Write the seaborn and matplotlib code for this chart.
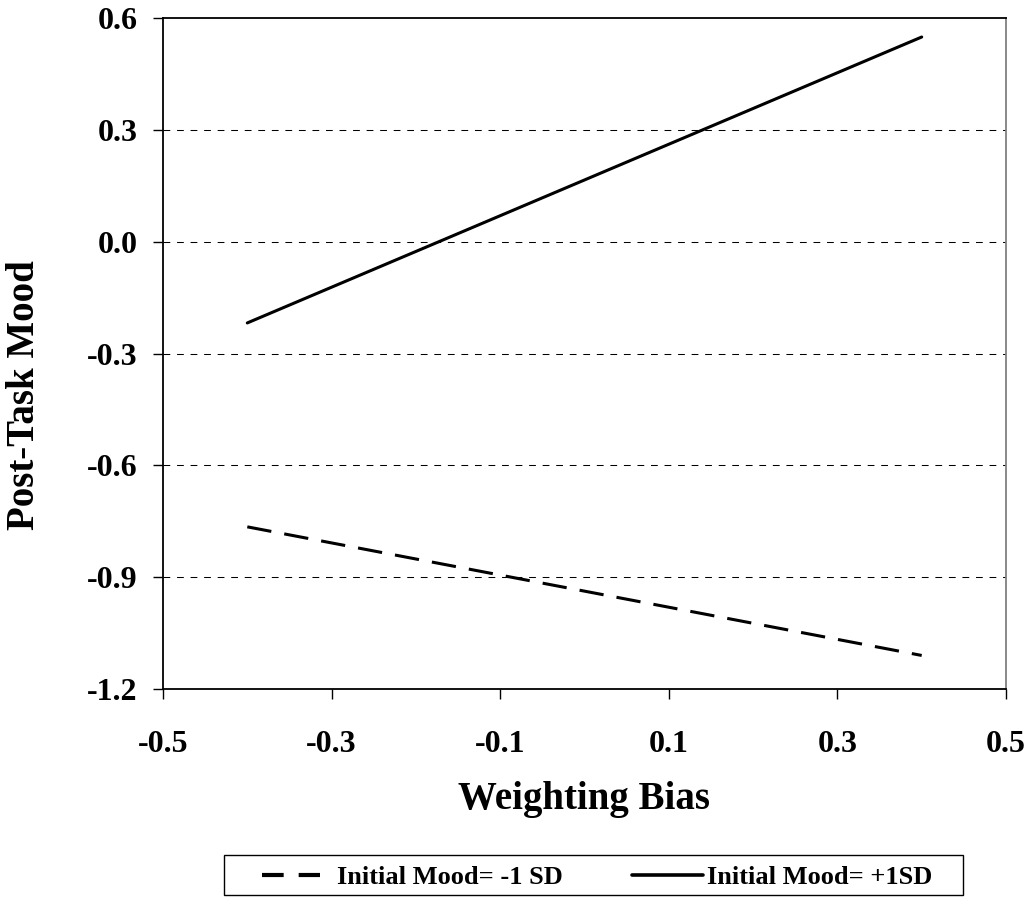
import numpy as np
import pandas as pd
import matplotlib
matplotlib.use("Agg")
import matplotlib.pyplot as plt
import seaborn as sns
from matplotlib.lines import Line2D
from matplotlib.patches import Rectangle

weighting_bias = [-0.4, 0.4]
mood_low = [-0.765, -1.11]
mood_high = [-0.218, 0.549]
series_names = ["Initial Mood= -1 SD", "Initial Mood= +1SD"]
x_ticks = [-0.5, -0.3, -0.1, 0.1, 0.3, 0.5]
y_ticks = [-1.2, -0.9, -0.6, -0.3, 0.0, 0.3, 0.6]

df = pd.DataFrame({
    "x": weighting_bias * 2,
    "y": mood_low + mood_high,
    "series": [series_names[0]] * 2 + [series_names[1]] * 2,
})

sns.set_style("white")
plt.rcParams['font.family'] = ['Liberation Serif', 'DejaVu Serif']
plt.rcParams['font.weight'] = 'bold'
plt.rcParams['text.color'] = 'black'
plt.rcParams['axes.labelcolor'] = 'black'
plt.rcParams['xtick.color'] = 'black'
plt.rcParams['ytick.color'] = 'black'

W, H = 1032, 898
fig = plt.figure(figsize=(W/100, H/100), dpi=100)
ax = fig.add_axes([163/W, 1 - 689/H, (1006-163)/W, (689-18)/H])

LW = 2.2
sns.lineplot(data=df, x="x", y="y", hue="series", style="series",
             palette=["black", "black"],
             dashes={series_names[0]: (8, 4.3), series_names[1]: ""},
             linewidth=LW, legend=False, ax=ax)

for yv in y_ticks[1:-1]:
    ax.axhline(yv, color="black", linestyle=(0, (6.5, 6.5)), linewidth=0.75, zorder=0)

ax.set_xlim(-0.5, 0.5)
ax.set_ylim(-1.2, 0.6)
ax.set_xticks(x_ticks)
ax.set_yticks(y_ticks)
ax.set_xticklabels([f"{v:.1f}" for v in x_ticks], fontsize=23, fontweight='bold')
ax.set_yticklabels([f"{v:.1f}" for v in y_ticks], fontsize=23, fontweight='bold')
ax.tick_params(axis='both', direction='out', length=7.2, width=1, color='black',
               bottom=True, left=True)
ax.tick_params(axis='x', pad=22)
ax.tick_params(axis='y', pad=11)

for s in ["left", "bottom", "top"]:
    ax.spines[s].set_color("black")
    ax.spines[s].set_linewidth(1.3)
ax.spines["right"].set_color("#808080")
ax.spines["right"].set_linewidth(1.3)

ax.set_xlabel("Weighting Bias", fontsize=28, fontweight='bold', labelpad=16)
ax.set_ylabel("Post-Task Mood", fontsize=28, fontweight='bold')
ax.yaxis.set_label_coords(-(163 - 43) / (1006 - 163), (689 - 395) / (689 - 18))

# legend drawn in figure pixel coordinates
def fx(px):
    return px / W

def fy(py):
    return 1 - py / H

fig.add_artist(Rectangle((fx(224), fy(895)), fx(963) - fx(224), fy(855) - fy(895),
                         transform=fig.transFigure, fill=False,
                         edgecolor="black", linewidth=1.0))
ly = fy(875)
fig.add_artist(Line2D([fx(262), fx(320)], [ly, ly], transform=fig.transFigure,
                      color="black", linewidth=3, linestyle=(0, (5.2, 3.6))))
fig.add_artist(Line2D([fx(632), fx(703)], [ly, ly], transform=fig.transFigure,
                      color="black", linewidth=2.6))
fig.text(fx(337), ly, series_names[0], ha="left", va="center_baseline",
         fontsize=19, fontweight="bold")
fig.text(fx(707), ly, series_names[1], ha="left", va="center_baseline",
         fontsize=19, fontweight="bold")

fig.savefig("out.png", dpi=100, facecolor="white")
